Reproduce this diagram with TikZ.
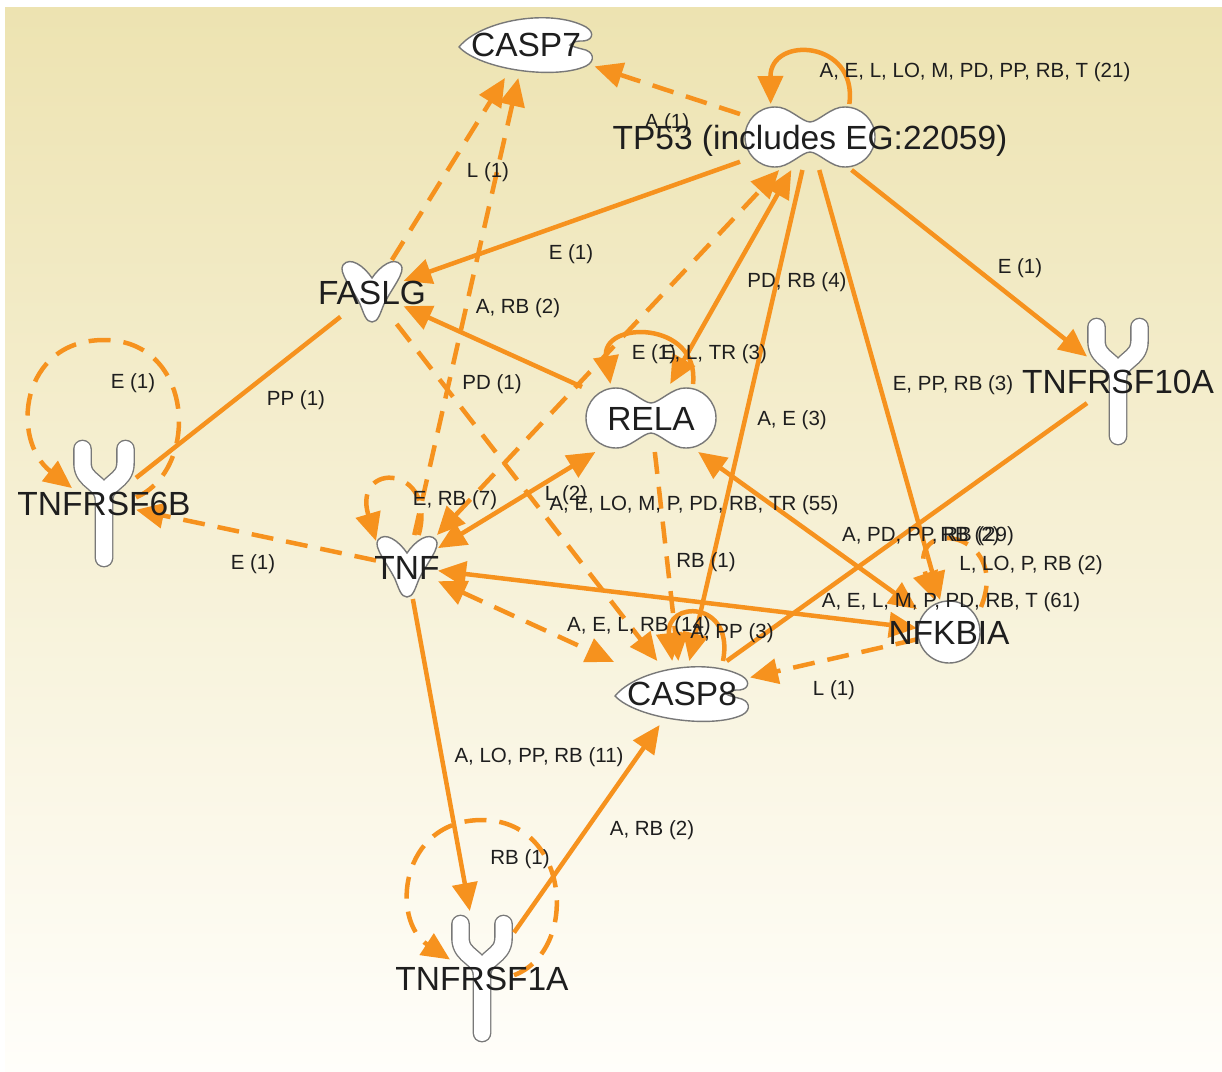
\documentclass[tikz,border=0pt]{standalone}
\usepackage{fontspec}
\setmainfont{Liberation Sans}
\usetikzlibrary{arrows.meta}

\definecolor{ipaorange}{RGB}{246,146,30}
\definecolor{shapegray}{RGB}{120,120,120}
\definecolor{labeltext}{RGB}{30,30,30}
\definecolor{bgtop}{RGB}{237,227,177}
\definecolor{bgmid}{RGB}{247,241,214}
\definecolor{bgbot}{RGB}{255,254,250}

\begin{document}
\begin{tikzpicture}[x=1pt, y=-1pt,
	genebox/.style={rectangle, inner sep=0pt, outer sep=0pt},
	geneshape/.style={draw=shapegray, fill=white, line width=1.4pt},
	genename/.style={font=\fontsize{33.5}{36}\selectfont, text=labeltext, inner sep=0pt, text height=24pt, text depth=0pt},
	rellabel/.style={font=\fontsize{20.5}{22}\selectfont, text=labeltext, inner sep=0pt, text height=14.7pt, text depth=0pt},
	rel/.style={draw=ipaorange, line width=4.5pt},
	reldash/.style={rel, dash pattern=on 22pt off 13pt},
	fwd/.style={-{Triangle[length=28pt, width=25pt]}},
	both/.style={{Triangle[length=28pt, width=25pt]}-{Triangle[length=28pt, width=25pt]}},
	tfshape/.pic={
		\path[geneshape] (0,-15) .. controls (-8,-15) and (-22,-31) .. (-35,-30)
			.. controls (-51.6,-30) and (-65,-16.6) .. (-65,0)
			.. controls (-65,16.6) and (-51.6,30) .. (-35,30)
			.. controls (-22,31) and (-8,15) .. (0,15)
			.. controls (8,15) and (22,31) .. (35,30)
			.. controls (51.6,30) and (65,16.6) .. (65,0)
			.. controls (65,-16.6) and (51.6,-30) .. (35,-30)
			.. controls (22,-31) and (8,-15) .. (0,-15) -- cycle;
	},
	pepshape/.pic={
		\path[geneshape] (-67,3) .. controls (-45,-24) and (25,-36) .. (60,-17)
			.. controls (70,-11) and (66,-2) .. (54,-3)
			.. controls (48,-3) and (45,0) .. (44,1)
			.. controls (48,3) and (52,4) .. (56,5)
			.. controls (68,7) and (70,17) .. (60,22)
			.. controls (30,36) and (-45,26) .. (-67,3) -- cycle;
	},
	cytoshape/.pic={
		\path[geneshape] (0,-14) .. controls (-8,-26) and (-22,-36) .. (-29,-27)
			.. controls (-34,-20) and (-20,-4) .. (-12,12)
			.. controls (-8,22) and (-6,30) .. (0,30)
			.. controls (6,30) and (8,22) .. (12,12)
			.. controls (20,-4) and (34,-20) .. (29,-27)
			.. controls (22,-36) and (8,-26) .. (0,-14) -- cycle;
	},
	recshape/.pic={
		\draw[draw=shapegray, line width=1.4pt, double=white, double distance=16pt, line cap=round, line join=round]
			(-21.5,-54) -- (-21.5,-40) .. controls (-21.5,-20) and (0,-22) .. (0,-2) -- (0,55)
			(21.5,-54) -- (21.5,-40) .. controls (21.5,-20) and (0,-22) .. (0,-2);
	}]
	\useasboundingbox (0,0) rectangle (1222,1071);
	\fill[white] (0,0) rectangle (1222,1071);
	\shade[top color=bgtop, middle color=bgmid, bottom color=bgbot] (5,7) rectangle (1222,1071);

	\node[genebox, minimum width=137pt, minimum height=68pt] (casp7) at (526,44) {};
	\node[genebox, minimum width=140pt, minimum height=66pt] (tp53) at (810,137) {};
	\node[genebox, minimum width=63pt, minimum height=64pt] (fasl) at (372,292) {};
	\node[genebox, minimum width=138pt, minimum height=68pt] (rela) at (651,418) {};
	\node[genebox, minimum width=62pt, minimum height=130pt] (tnfrsf10a) at (1118,381) {};
	\node[genebox, minimum width=64pt, minimum height=134pt] (tnfrsf6b) at (104,503) {};
	\node[genebox, minimum width=62pt, minimum height=64pt] (tnf) at (407,567) {};
	\node[genebox, minimum width=64pt, minimum height=64pt] (nfkbia) at (949,632) {};
	\node[genebox, minimum width=136pt, minimum height=64pt] (casp8) at (682,693) {};
	\node[genebox, minimum width=64pt, minimum height=134pt] (tnfrsf1a) at (482,978) {};

	\pic at (casp7) {pepshape};
	\pic at (casp8) {pepshape};
	\pic at (tp53) {tfshape};
	\pic at (rela) {tfshape};
	\pic at (fasl) {cytoshape};
	\pic at (tnf) {cytoshape};
	\pic at (tnfrsf10a) {recshape};
	\pic at (tnfrsf6b) {recshape};
	\pic at (tnfrsf1a) {recshape};
	\draw[geneshape] (nfkbia) circle[radius=31pt];

	\draw[rel, fwd] (tp53.40) .. controls (858,40) and (770,35) .. (tp53.140);
	\draw[reldash, fwd] (tp53) -- (casp7);
	\draw[reldash, fwd] (fasl) -- (casp7);
	\draw[reldash, fwd] (tnf) -- (casp7);
	\draw[rel, fwd] (tp53) -- (fasl);
	\draw[rel, fwd] (rela) -- (fasl);
	\draw[reldash, both] (tnf) -- (tp53);
	\draw[rel, fwd] (rela.39) .. controls (700,320) and (600,320) .. (rela.140);
	\draw[rel, both] (tp53) -- (rela);
	\draw[rel, fwd] (tp53) -- (casp8);
	\draw[rel, fwd] (tp53) -- (nfkbia);
	\draw[rel, fwd] (tp53) -- (tnfrsf10a);
	\draw[rel] (tnfrsf10a) -- (casp8);
	\draw[rel, both] (rela) -- (nfkbia);
	\draw[rel, both] (nfkbia) -- (tnf);
	\draw[reldash, fwd] (nfkbia.38) .. controls (1012,530) and (905,515) .. (nfkbia.114);
	\draw[reldash, fwd] (nfkbia) -- (casp8);
	\draw[reldash, both] (tnf) -- (casp8);
	\draw[reldash, fwd] (fasl) -- (casp8);
	\draw[reldash, fwd] (rela) -- (casp8);
	\draw[rel, fwd] (casp8.38) .. controls (735,600) and (665,600) .. (casp8.107);
	\draw[reldash, fwd] (tnf) -- (tnfrsf6b);
	\draw[rel] (fasl) -- (tnfrsf6b);
	\draw[reldash, fwd] (tnfrsf6b.10) .. controls (200,470) and (195,340) .. (104,340) .. controls (20,340) and (10,440) .. (tnfrsf6b.155);
	\draw[reldash, fwd] (tnf.70) .. controls (438,465) and (352,460) .. (tnf.140);
	\draw[rel, both] (tnf) -- (rela);
	\draw[rel, fwd] (tnf) -- (tnfrsf1a);
	\draw[rel, fwd] (tnfrsf1a) -- (casp8);
	\draw[reldash, fwd] (tnfrsf1a.5) .. controls (580,950) and (570,820) .. (482,820) .. controls (400,820) and (390,920) .. (tnfrsf1a.150);

	\foreach \g/\t in {casp7/CASP7, tp53/{TP53 (includes EG:22059)}, fasl/FASLG, rela/RELA, tnfrsf10a/TNFRSF10A,
		tnfrsf6b/TNFRSF6B, tnf/TNF, nfkbia/NFKBIA, casp8/CASP8, tnfrsf1a/TNFRSF1A}
		{\node[genename] (\g-name) at (\g) {\t};}

	\foreach \i/\x/\y/\t in {1/975/70/{A, E, L, LO, M, PD, PP, RB, T (21)}, 2/667/121/{A (1)}, 3/488/170/{L (1)},
		4/571/252/{E (1)}, 5/1020/266/{E (1)}, 6/797/280/{PD, RB (4)}, 7/518/306/{A, RB (2)},
		8/654/352/{E (1)}, 9/714/352/{E, L, TR (3)}, 10/133/381/{E (1)}, 11/296/398/{PP (1)},
		12/492/382/{PD (1)}, 13/953/383/{E, PP, RB (3)}, 14/792/418/{A, E (3)}, 15/455/498/{E, RB (7)},
		16/566/493/{L (2)}, 17/694/503/{A, E, LO, M, P, PD, RB, TR (55)}, 18/928/534/{A, PD, PP, RB (29)},
		19/970/534/{RB (2)}, 20/1031/563/{L, LO, P, RB (2)}, 21/706/560/{RB (1)}, 22/253/562/{E (1)},
		23/951/600/{A, E, L, M, P, PD, RB, T (61)}, 24/639/624/{A, E, L, RB (14)}, 25/732/631/{A, PP (3)},
		26/834/688/{L (1)}, 27/539/755/{A, LO, PP, RB (11)}, 28/652/828/{A, RB (2)}, 29/520/857/{RB (1)}}
		{\node[rellabel] (lbl\i) at (\x,\y) {\t};}
\end{tikzpicture}
\end{document}
